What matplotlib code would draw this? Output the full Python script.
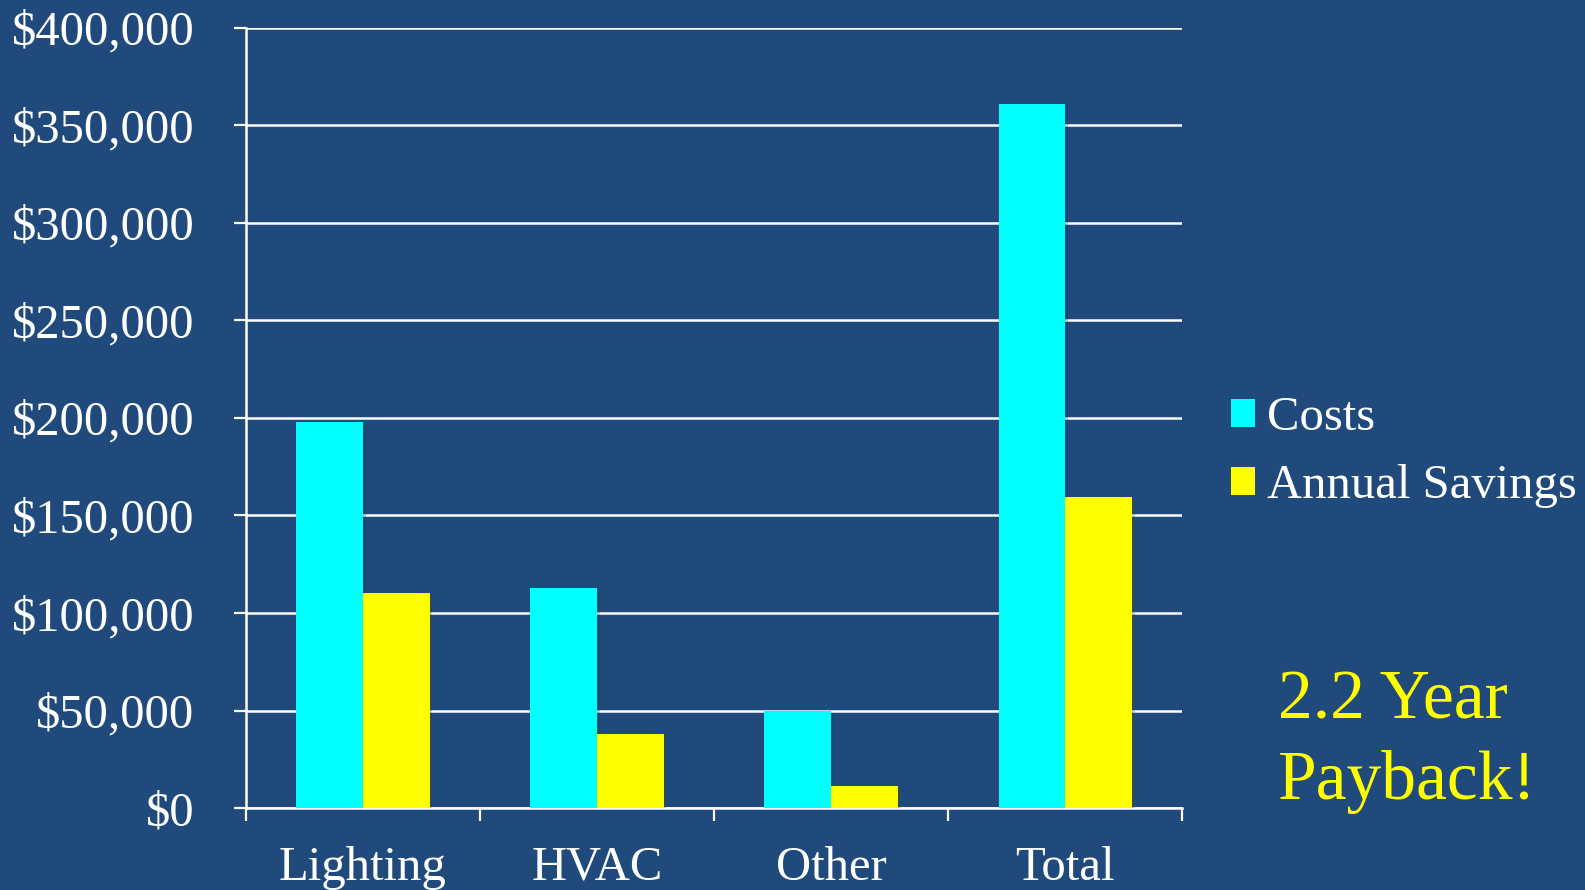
import matplotlib
matplotlib.use("Agg")
import matplotlib.pyplot as plt
import matplotlib.patheffects as pe
import numpy as np

categories = ["Lighting", "HVAC", "Other", "Total"]
costs = [198000, 113000, 50000, 361000]
savings = [110000, 38000, 11500, 159500]
series_names = ["Costs", "Annual Savings"]
yticks = [0, 50000, 100000, 150000, 200000, 250000, 300000, 350000, 400000]
ytick_labels = ["$0", "$50,000", "$100,000", "$150,000", "$200,000",
                "$250,000", "$300,000", "$350,000", "$400,000"]
note = "2.2 Year\nPayback!"

BG = "#204a7c"
CYAN = "#00ffff"
YELLOW = "#ffff00"
FONT = "Liberation Serif"

plt.rcParams['font.family'] = [FONT, 'DejaVu Serif']

fig = plt.figure(figsize=(15.85, 8.9), dpi=100, facecolor=BG)
ax = fig.add_axes([0.155, 0.092, 0.591, 0.877], facecolor=BG)

x = np.arange(len(categories))
w = 0.285
shadow = [pe.SimplePatchShadow(offset=(2, -2), alpha=0.25), pe.Normal()]
b1 = ax.bar(x - w / 2, costs, width=w, color=CYAN, label=series_names[0], zorder=3)
b2 = ax.bar(x + w / 2, savings, width=w, color=YELLOW, label=series_names[1], zorder=3)
for b in list(b1) + list(b2):
    b.set_path_effects(shadow)

ax.set_xlim(-0.5, len(categories) - 0.5)
ax.set_ylim(0, 400000)

ax.set_yticks(yticks)
ax.set_yticklabels(ytick_labels)
ax.grid(axis='y', color='white', linewidth=1.8, zorder=1)
ax.set_axisbelow(True)

ax.set_xticks(np.arange(len(categories) + 1) - 0.5)
ax.set_xticklabels([])
ax.set_xticks(x, minor=True)
ax.set_xticklabels(categories, minor=True)

ax.tick_params(axis='y', colors='white', length=9, width=1.6, pad=28, labelsize=35)
ax.tick_params(axis='x', which='major', colors='white', length=9, width=1.6)
ax.tick_params(axis='x', which='minor', colors='white', length=0, pad=27, labelsize=35)

for s in ['top', 'right']:
    ax.spines[s].set_visible(False)
for s in ['left', 'bottom']:
    ax.spines[s].set_color('white')
    ax.spines[s].set_linewidth(1.8)

leg = fig.legend(handles=[b1, b2], labels=series_names, loc='center left',
                 bbox_to_anchor=(0.749, 0.492), frameon=False, fontsize=35,
                 handlelength=0.5, handleheight=0.5, handletextpad=0.25,
                 labelspacing=0.5, labelcolor='white')
for h in leg.legend_handles:
    h.set_path_effects([])

fig.text(0.806, 0.166, note, color=YELLOW, fontsize=50, ha='left', va='center',
         linespacing=1.33)

fig.savefig("out.png", dpi=100, facecolor=BG)
